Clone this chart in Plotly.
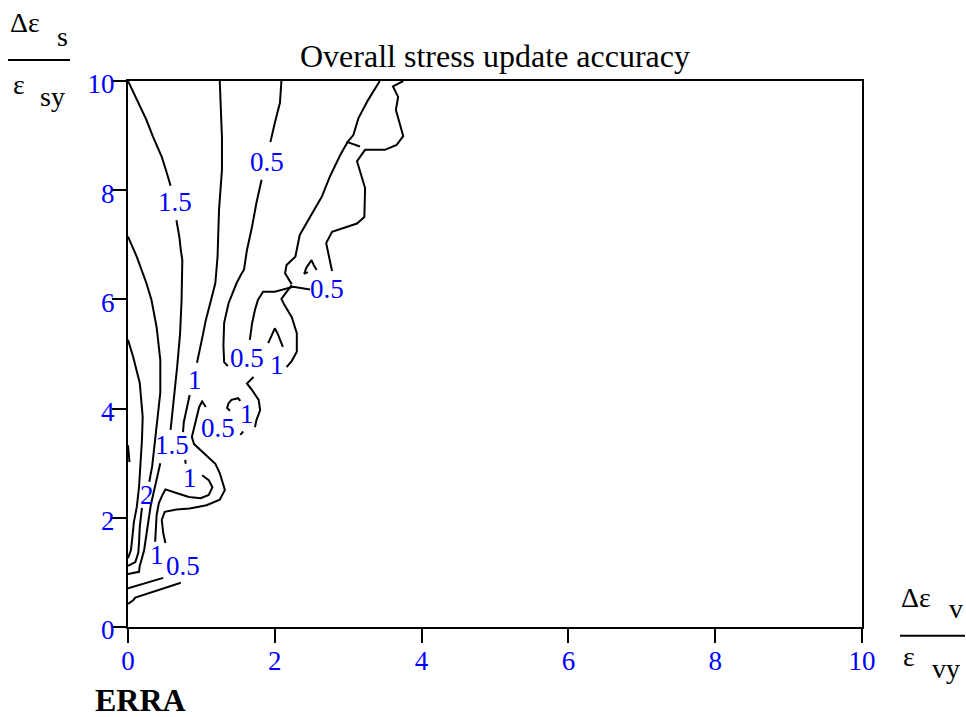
import plotly.graph_objects as go

# ---- contour line data (x = Δεv/εvy, y = Δεs/εsy) ----
# level 1.5 (from top-left corner)
c15_top_x = [0.0, 0.10, 0.25, 0.34, 0.46, 0.53, 0.58]
c15_top_y = [10.0, 9.71, 9.29, 8.98, 8.61, 8.31, 8.08]
c15_mid_x = [0.66, 0.70, 0.72, 0.74, 0.73, 0.71, 0.67, 0.62, 0.60, 0.58]
c15_mid_y = [7.45, 7.14, 6.90, 6.72, 5.99, 5.38, 4.77, 4.16, 3.85, 3.61]
c15_low_x = [0.44, 0.40, 0.35, 0.31, 0.28, 0.25, 0.22, 0.19, 0.16, 0.15, 0.0]
c15_low_y = [3.00, 2.75, 2.47, 2.23, 1.96, 1.65, 1.41, 1.26, 1.12, 1.01, 0.97]

# level 2 (from left edge at 7.15)
c2_top_x = [0.0, 0.12, 0.25, 0.32, 0.39, 0.44, 0.44, 0.40, 0.37, 0.33, 0.29]
c2_top_y = [7.15, 6.78, 6.30, 5.99, 5.49, 4.89, 4.29, 3.79, 3.42, 2.95, 2.66]
c2_low_x = [0.19, 0.16, 0.15, 0.14, 0.10, 0.0]
c2_low_y = [2.18, 1.83, 1.54, 1.36, 1.19, 1.12]

# level 2.5 (from left edge at 5.26)
c25_x = [0.0, 0.07, 0.16, 0.20, 0.19, 0.17, 0.15, 0.12, 0.08, 0.06, 0.04, 0.0]
c25_y = [5.26, 4.95, 4.47, 3.85, 3.42, 2.93, 2.56, 2.20, 1.92, 1.65, 1.41, 1.26]
c3_x = [0.0, 0.02]
c3_y = [3.33, 3.02]

# bottom short lines
b1_x = [0.0, 0.48]
b1_y = [0.71, 0.90]
b2_x = [0.0, 0.07, 0.10, 0.72]
b2_y = [0.42, 0.49, 0.54, 0.81]

# level 1 (from top at 1.25)
c1_top_x = [1.25, 1.26, 1.28, 1.28, 1.24, 1.22, 1.19, 1.12, 1.06, 1.02, 0.98, 0.94]
c1_top_y = [10.0, 9.60, 8.97, 8.37, 7.64, 6.78, 6.30, 5.93, 5.62, 5.35, 5.07, 4.84]
c1_mid_x = [0.84, 0.80, 0.76, 0.75]
c1_mid_y = [4.25, 3.97, 3.75, 3.57]
c1_dot_x = [0.78, 0.785]
c1_dot_y = [3.06, 2.99]
c1_loop_x = [1.01, 1.10, 1.15, 1.10, 0.99, 0.83, 0.67, 0.51, 0.47, 0.42, 0.39, 0.38, 0.37]
c1_loop_y = [2.78, 2.69, 2.56, 2.42, 2.36, 2.38, 2.45, 2.52, 2.42, 2.27, 2.05, 1.87, 1.56]

# level 0.5 (from top at 2.09)
c05_top_x = [2.09, 2.07, 2.00, 1.94]
c05_top_y = [10.0, 9.60, 9.23, 8.88]
c05_mid_x = [1.82, 1.75, 1.69, 1.62, 1.58, 1.55, 1.48, 1.37, 1.31, 1.30, 1.31, 1.36]
c05_mid_y = [8.19, 7.77, 7.33, 6.90, 6.54, 6.48, 6.30, 5.93, 5.57, 5.16, 4.85, 4.78]

# level 0.5 (from top at 3.43) with notch
d_x = [3.43, 3.27, 3.14, 3.07, 2.99, 3.16]
d_y = [10.0, 9.65, 9.32, 9.01, 8.88, 8.80]
f_x = [2.99, 2.89, 2.75, 2.64, 2.48, 2.34, 2.28, 2.16, 2.14, 2.23]
f_y = [8.88, 8.64, 8.25, 7.88, 7.51, 7.18, 6.78, 6.63, 6.48, 6.28]

# level 0.5 (from top at 3.75)
e_x = [3.75, 3.61, 3.68, 3.65, 3.70, 3.75, 3.66, 3.50, 3.23, 3.12, 3.23, 3.22,
       3.12, 2.78, 2.70, 2.78]
e_y = [10.0, 9.90, 9.71, 9.47, 9.23, 8.99, 8.83, 8.74, 8.74, 8.53, 8.04, 7.51,
       7.39, 7.24, 7.03, 6.52]
e_left_x = [2.48, 2.25, 2.00, 1.84, 1.77, 1.73, 1.69, 1.66]
e_left_y = [6.18, 6.23, 6.14, 6.14, 5.99, 5.81, 5.56, 5.26]

# level 1 pocket near (2.2, 5.5)
g_x = [2.23, 2.09, 2.13, 2.23, 2.30, 2.30, 2.23, 2.16]
g_y = [6.26, 6.01, 5.90, 5.68, 5.38, 5.04, 4.87, 4.76]
caret_x = [1.91, 2.00, 2.04, 2.11]
caret_y = [5.20, 5.47, 5.37, 5.13]
hook_x = [2.45, 2.40, 2.43, 2.50, 2.53, 2.57]
hook_y = [6.50, 6.47, 6.58, 6.72, 6.63, 6.54]

# level 1 near (1.7, 4)
h_x = [1.71, 1.62, 1.69, 1.78, 1.80, 1.75, 1.73]
h_y = [4.58, 4.46, 4.34, 4.16, 3.97, 3.79, 3.66]
h_tail_x = [1.57, 1.53]
h_tail_y = [3.58, 3.52]
bracket_x = [1.53, 1.50, 1.41, 1.37, 1.35, 1.39]
bracket_y = [4.14, 4.19, 4.16, 4.10, 4.01, 3.96]

# level 0.5 around the lower pocket
i_x = [1.06, 1.01, 0.97, 0.94, 0.89, 0.87, 0.90, 0.99, 1.10, 1.19, 1.25, 1.32,
       1.25, 1.07, 0.84, 0.66, 0.50, 0.46, 0.48, 0.51]
i_y = [4.03, 4.13, 4.03, 3.85, 3.61, 3.48, 3.35, 3.24, 3.11, 2.99, 2.82, 2.51,
       2.33, 2.23, 2.17, 2.15, 2.11, 1.96, 1.72, 1.54]

# contour labels
label_text = ["1.5", "0.5", "0.5", "0.5", "1", "1", "1", "0.5", "1.5", "1", "2", "1", "0.5"]
label_x = [0.64, 1.89, 2.71, 1.62, 2.03, 0.91, 1.62, 1.23, 0.60, 0.84, 0.26, 0.40, 0.75]
label_y = [7.78, 8.52, 6.19, 4.92, 4.80, 4.52, 3.91, 3.64, 3.33, 2.73, 2.42, 1.32, 1.12]

tick_vals = [0, 2, 4, 6, 8, 10]
tick_text = ["0", "2", "4", "6", "8", "10"]

lines = [
    (c15_top_x, c15_top_y), (c15_mid_x, c15_mid_y), (c15_low_x, c15_low_y),
    (c2_top_x, c2_top_y), (c2_low_x, c2_low_y), (c25_x, c25_y), (c3_x, c3_y),
    (b1_x, b1_y), (b2_x, b2_y),
    (c1_top_x, c1_top_y), (c1_mid_x, c1_mid_y), (c1_dot_x, c1_dot_y), (c1_loop_x, c1_loop_y),
    (c05_top_x, c05_top_y), (c05_mid_x, c05_mid_y),
    (d_x, d_y), (f_x, f_y), (e_x, e_y), (e_left_x, e_left_y),
    (g_x, g_y), (caret_x, caret_y), (hook_x, hook_y),
    (h_x, h_y), (h_tail_x, h_tail_y), (bracket_x, bracket_y),
    (i_x, i_y),
]

SERIF = "Liberation Serif, Times New Roman, serif"
BLUE = "#0000FF"

fig = go.Figure()
for xs, ys in lines:
    fig.add_trace(go.Scatter(x=xs, y=ys, mode="lines",
                             line=dict(color="black", width=2),
                             hoverinfo="skip", showlegend=False))

for t, x, y in zip(label_text, label_x, label_y):
    fig.add_annotation(x=x, y=y, text=t, showarrow=False,
                       font=dict(family=SERIF, size=27, color=BLUE))

axis_common = dict(range=[0, 10], tickvals=tick_vals, ticktext=tick_text,
                   showgrid=False, zeroline=False, showline=True, linecolor="black",
                   linewidth=2, mirror=True, ticks="outside", ticklen=14, tickwidth=2,
                   tickcolor="black", tickfont=dict(family=SERIF, size=27, color=BLUE))

fig.update_layout(
    width=966, height=717,
    margin=dict(l=128, r=104, t=81, b=90),
    paper_bgcolor="white", plot_bgcolor="white",
    showlegend=False,
    hovermode=False,
    title=dict(text="Overall stress update accuracy", x=0.5, xref="paper",
               y=1 - 56 / 717, yref="container", yanchor="middle", xanchor="center",
               font=dict(family=SERIF, size=32, color="black")),
    xaxis=dict(**axis_common, ticklabelstandoff=-5),
    yaxis=dict(**axis_common, ticklabelshift=3, ticklabelstandoff=-8),
)

txt = dict(family=SERIF, size=28, color="black")
ann = [
    ("Δε", -0.1403, 1.108), ("s", -0.0892, 1.0806), ("ε", -0.1485, 0.9927), ("sy", -0.1029, 0.9707),
    ("Δε", 1.0742, 0.0549), ("v", 1.1274, 0.033), ("ε", 1.064, -0.0549), ("vy", 1.1151, -0.0769),
]
for t, x, y in ann:
    fig.add_annotation(x=x, y=y, xref="paper", yref="paper", text=t, showarrow=False,
                       xanchor="center", yanchor="middle", font=txt, borderpad=0)
fig.add_shape(type="line", xref="paper", yref="paper", x0=-0.1635, x1=-0.079,
              y0=1.0385, y1=1.0385, line=dict(color="black", width=2))
fig.add_shape(type="line", xref="paper", yref="paper", x0=1.0518, x1=1.1403,
              y0=-0.0159, y1=-0.0159, line=dict(color="black", width=2))
fig.add_annotation(x=0.0177, y=-0.1337, xref="paper", yref="paper", text="<b>ERRA</b>",
                   showarrow=False, xanchor="center", yanchor="middle", borderpad=0,
                   font=dict(family=SERIF, size=32, color="black"))

fig.write_html("out.html",
               config={"displayModeBar": False},
               post_script="document.body.style.margin='0';"
                           "document.body.style.overflow='hidden';")
